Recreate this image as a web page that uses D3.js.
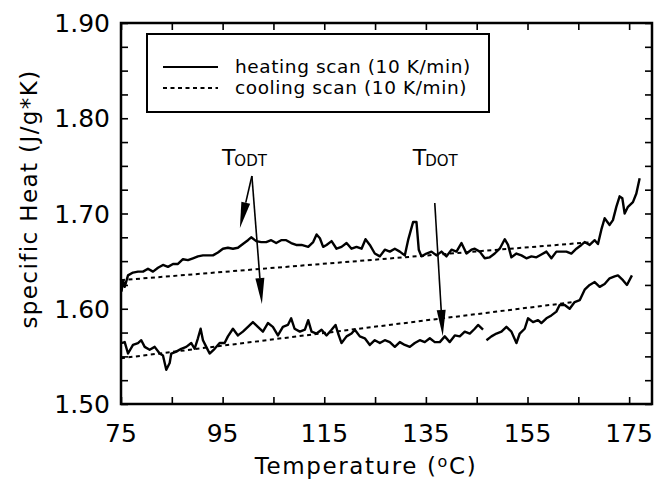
<!DOCTYPE html>
<html><head><meta charset="utf-8">
<script src="https://cdn.jsdelivr.net/npm/d3@7"></script>
<style>
html,body{margin:0;padding:0;background:#fff;}
text{font-family:"DejaVu Sans",sans-serif;fill:#000;}
</style></head>
<body><svg id="c" width="656" height="481"></svg>
<script>
// ---- data ----
const xTicks = [75, 95, 115, 135, 155, 175];
const yTicks = [1.50, 1.60, 1.70, 1.80, 1.90];

// upper heating scan
const heat1T = [75.1,75.4,75.73,76.38,77.36,78.34,79.33,80.31,81.29,82.28,83.26,84.24,85.23,86.21,87.19,88.18,89.16,90.14,91.13,92.11,93.09,94.08,95.06,96.04,97.03,98.01,98.99,99.98,100.62,101.61,102.59,103.57,104.56,105.54,106.52,107.51,108.49,109.47,110.54,111.84,112.82,113.49,114.14,114.78,115.45,116.44,117.42,118.40,119.39,120.37,121.35,122.34,123.12,123.97,124.95,125.94,126.92,127.90,128.89,129.87,130.85,131.50,132.48,133.15,133.60,134.13,135.12,136.10,137.09,138.07,139.05,140.04,141.02,142.00,142.99,143.97,144.62,145.60,146.58,147.57,148.55,149.53,150.52,151.17,151.83,152.82,153.80,154.78,155.77,156.75,157.73,158.72,159.70,160.68,161.67,162.65,163.63,164.62,165.60,166.25,167.23,168.22,168.87,169.53,170.18,171.16,171.81,172.48,173.13,173.66,174.12,174.77,175.75,176.42,177.07];
const heat1Cp = [1.618,1.630,1.623,1.635,1.638,1.639,1.639,1.642,1.639,1.643,1.646,1.644,1.647,1.647,1.652,1.651,1.653,1.655,1.656,1.656,1.656,1.659,1.663,1.664,1.663,1.664,1.668,1.672,1.675,1.671,1.670,1.670,1.672,1.669,1.672,1.672,1.669,1.667,1.667,1.665,1.670,1.678,1.674,1.665,1.667,1.671,1.663,1.665,1.669,1.663,1.665,1.663,1.673,1.667,1.658,1.655,1.662,1.660,1.663,1.660,1.656,1.672,1.691,1.691,1.662,1.655,1.658,1.660,1.656,1.660,1.655,1.662,1.660,1.669,1.658,1.662,1.663,1.660,1.653,1.654,1.658,1.663,1.673,1.667,1.654,1.658,1.656,1.653,1.655,1.654,1.657,1.660,1.653,1.660,1.660,1.660,1.658,1.663,1.667,1.670,1.667,1.672,1.668,1.683,1.695,1.688,1.693,1.707,1.718,1.716,1.700,1.707,1.712,1.721,1.737];

// lower scan (null marks a gap in the trace)
const heat2T = [75.06,75.73,76.38,77.36,78.34,78.99,79.66,80.64,81.63,82.61,83.26,83.91,84.58,84.89,85.88,86.86,87.84,88.83,89.49,90.14,90.67,91.13,91.78,92.44,93.43,94.41,95.39,96.04,97.03,98.01,98.99,99.98,100.96,101.94,102.93,103.91,104.89,105.88,106.86,107.84,108.49,109.16,110.20,111.19,111.84,112.50,113.49,114.47,115.45,116.44,117.22,117.73,118.40,119.39,120.37,121.02,122.00,122.98,123.97,124.95,125.94,126.92,127.90,128.89,129.87,130.85,131.84,132.82,133.80,134.78,135.77,136.75,137.74,138.72,139.70,140.69,141.67,142.65,143.64,144.62,145.27,146.25,146.50,146.92,147.90,148.89,149.87,150.85,151.83,152.82,153.47,154.45,155.10,156.09,157.07,157.73,158.72,159.70,160.68,161.33,162.32,163.30,164.28,165.27,166.25,167.23,168.22,169.20,170.18,171.16,172.15,172.80,173.78,174.57,175.55];
const heat2Cp = [1.564,1.565,1.553,1.562,1.564,1.567,1.560,1.557,1.560,1.553,1.551,1.536,1.543,1.553,1.555,1.558,1.560,1.564,1.558,1.569,1.579,1.567,1.560,1.553,1.558,1.564,1.564,1.571,1.579,1.572,1.576,1.581,1.586,1.581,1.576,1.585,1.581,1.572,1.581,1.583,1.590,1.579,1.576,1.578,1.588,1.576,1.574,1.578,1.572,1.578,1.583,1.574,1.564,1.571,1.574,1.578,1.571,1.569,1.562,1.567,1.564,1.567,1.565,1.560,1.565,1.562,1.560,1.564,1.567,1.565,1.569,1.565,1.565,1.571,1.565,1.572,1.571,1.576,1.574,1.579,1.583,1.578,null,1.567,1.571,1.574,1.576,1.581,1.576,1.564,1.574,1.579,1.590,1.586,1.588,1.585,1.590,1.593,1.597,1.604,1.604,1.600,1.607,1.609,1.620,1.625,1.628,1.623,1.626,1.632,1.634,1.635,1.630,1.625,1.635];

// cooling scans (dotted)
const cool1T = [75, 167.8];
const cool1Cp = [1.630, 1.670];
const cool2T = [75, 164.0];
const cool2Cp = [1.548, 1.607];

// annotations
const annLabels = [{main:"T", sub:"ODT", t:94.86, cp:1.751}, {main:"T", sub:"DOT", t:132.42, cp:1.751}];
const arrows = [
  {t0:100.76, c0:1.7394, t1:98.40, c1:1.6848},
  {t0:100.76, c0:1.7394, t1:102.73, c1:1.6050},
  {t0:136.75, c0:1.7110, t1:138.32, c1:1.5714}
];
const legendItems = [{label:"heating scan (10 K/min)", dash:null}, {label:"cooling scan (10 K/min)", dash:"4,3.5"}];

// ---- drawing ----
const svg = d3.select("#c");
const L = 121, R = 652, T = 23, B = 404;
const x = d3.scaleLinear().domain([75, 179.5]).range([L, R]);
const y = d3.scaleLinear().domain([1.5, 1.9]).range([B, T]);

// curves
const line = d3.line().defined(d => d[1] != null).x(d => x(d[0])).y(d => y(d[1]));
const zip = (a, b) => a.map((v, i) => [v, b[i]]);
[[heat1T, heat1Cp], [heat2T, heat2Cp]].forEach(([a, b]) => {
  svg.append("path").datum(zip(a, b)).attr("d", line)
    .attr("fill", "none").attr("stroke", "#000").attr("stroke-width", 2.4).attr("stroke-linejoin", "round");
});
[[cool1T, cool1Cp], [cool2T, cool2Cp]].forEach(([a, b]) => {
  svg.append("path").datum(zip(a, b)).attr("d", line)
    .attr("fill", "none").attr("stroke", "#000").attr("stroke-width", 2).attr("stroke-dasharray", "4,3.5");
});

// axes with inward ticks
const minorX = d3.range(75, 180, 10);
const minorY = d3.range(0, 17).map(i => 1.5 + i * 0.025);
const tl = 7;
const gx = svg.append("g").attr("transform", `translate(0,${B})`)
  .call(d3.axisBottom(x).tickValues(minorX).tickSize(-tl).tickFormat(""));
const gxt = svg.append("g").attr("transform", `translate(0,${T})`)
  .call(d3.axisTop(x).tickValues(minorX).tickSize(-tl).tickFormat(""));
const gy = svg.append("g").attr("transform", `translate(${L},0)`)
  .call(d3.axisLeft(y).tickValues(minorY).tickSize(-tl).tickFormat(""));
const gyr = svg.append("g").attr("transform", `translate(${R},0)`)
  .call(d3.axisRight(y).tickValues(minorY).tickSize(-tl).tickFormat(""));
[gx, gxt, gy, gyr].forEach(g => {
  g.select(".domain").remove();
  g.selectAll(".tick line").attr("stroke", "#000").attr("stroke-width", 1.6);
});
svg.append("rect").attr("x", L).attr("y", T).attr("width", R - L).attr("height", B - T)
  .attr("fill", "none").attr("stroke", "#000").attr("stroke-width", 2.5);

// tick labels
svg.append("g").selectAll("text").data(xTicks).join("text")
  .attr("x", d => x(d)).attr("y", 442).attr("text-anchor", "middle")
  .attr("font-size", 25).text(d => d);
svg.append("g").selectAll("text").data(yTicks).join("text")
  .attr("x", 110).attr("y", d => y(d) + 9).attr("text-anchor", "end")
  .attr("font-size", 25).text(d => d.toFixed(2));

// axis titles
const xt = svg.append("text").attr("x", 366).attr("y", 474).attr("text-anchor", "middle")
  .attr("font-size", 23).attr("letter-spacing", 1.6);
xt.append("tspan").text("Temperature (");
xt.append("tspan").attr("font-size", 16).attr("dy", -7).text("o");
xt.append("tspan").attr("dy", 7).text("C)");
svg.append("text").attr("transform", "translate(37,199) rotate(-90)").attr("text-anchor", "middle")
  .attr("font-size", 23).attr("letter-spacing", 1.4).text("specific Heat (J/g*K)");

// legend
svg.append("rect").attr("x", 147).attr("y", 34).attr("width", 342).attr("height", 78)
  .attr("fill", "#fff").attr("stroke", "#000").attr("stroke-width", 2);
legendItems.forEach((d, i) => {
  const ly = 67 + i * 21;
  svg.append("line").attr("x1", 163).attr("x2", 218).attr("y1", ly).attr("y2", ly)
    .attr("stroke", "#000").attr("stroke-width", 2).attr("stroke-dasharray", d.dash);
  svg.append("text").attr("x", 235).attr("y", ly + 6).attr("font-size", 18.5)
    .attr("letter-spacing", 0.6).text(d.label);
});

// annotations
annLabels.forEach(a => {
  const t = svg.append("text").attr("x", x(a.t)).attr("y", y(a.cp)).attr("font-size", 22);
  t.append("tspan").text(a.main);
  t.append("tspan").attr("font-size", 15).attr("dy", 1).attr("dx", -1).text(a.sub);
});
arrows.forEach(a => {
  const x0 = x(a.t0), y0 = y(a.c0), x1 = x(a.t1), y1 = y(a.c1);
  const dx = x1 - x0, dy = y1 - y0, len = Math.hypot(dx, dy);
  const ux = dx / len, uy = dy / len, hl = 26, hw = 4.5;
  const bx = x1 - ux * hl, by = y1 - uy * hl;
  svg.append("line").attr("x1", x0).attr("y1", y0).attr("x2", bx).attr("y2", by)
    .attr("stroke", "#000").attr("stroke-width", 1.6);
  svg.append("path").attr("d", `M${x1},${y1}L${bx - uy * hw},${by + ux * hw}L${bx + uy * hw},${by - ux * hw}Z`)
    .attr("fill", "#000");
});
</script></body></html>
